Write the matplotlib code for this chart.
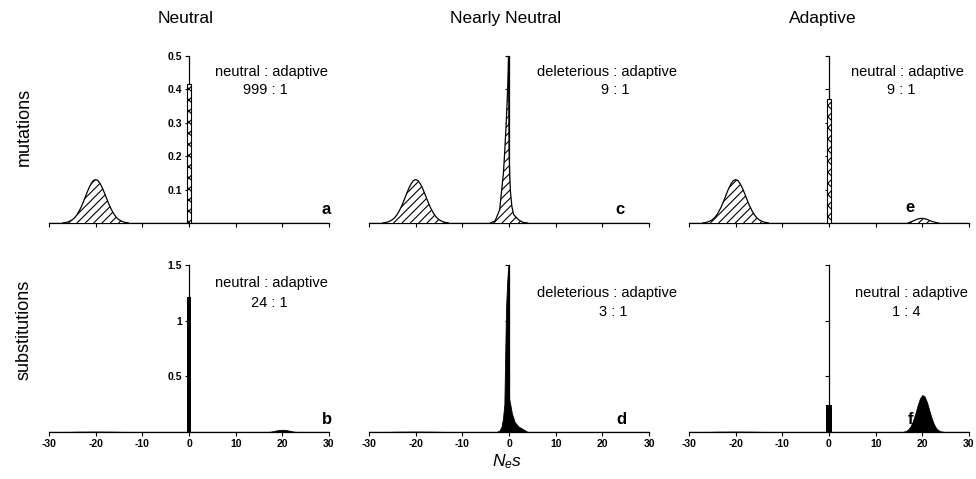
import matplotlib
matplotlib.use("Agg")
import matplotlib.pyplot as plt

plt.rcParams['font.family'] = ['Liberation Sans', 'DejaVu Sans']
plt.rcParams['hatch.linewidth'] = 0.8
plt.rcParams['mathtext.fontset'] = 'custom'
plt.rcParams['mathtext.it'] = 'Liberation Sans:italic'
plt.rcParams['mathtext.rm'] = 'Liberation Sans'

# ---------------- data ----------------
ns_ticks = [-30, -20, -10, 0, 10, 20, 30]
column_titles = ["Neutral", "Nearly Neutral", "Adaptive"]
row_titles = ["mutations", "substitutions"]
ratio_names = ["neutral : adaptive", "deleterious : adaptive", "neutral : adaptive",
               "neutral : adaptive", "deleterious : adaptive", "neutral : adaptive"]
ratio_values = ["999 : 1", "9 : 1", "9 : 1", "24 : 1", "3 : 1", "1 : 4"]
panel_letters = ["a", "c", "e", "b", "d", "f"]
mut_yticks = [0.1, 0.2, 0.3, 0.4, 0.5]
mut_ytick_labels = ["0.1", "0.2", "0.3", "0.4", "0.5"]
sub_yticks = [0.5, 1.0, 1.5]
sub_ytick_labels = ["0.5", "1", "1.5"]

# deleterious mutations centred near Ns = -20 (panels a, c, e)
del_mut_ns = [-27, -26.5, -26, -25.5, -25, -24.5, -24, -23.5, -23, -22.5, -22, -21.5,
              -21, -20.5, -20, -19.5, -19, -18.5, -18, -17.5, -17, -16.5, -16, -15.5,
              -15, -14.5, -14, -13.5, -13]
del_mut_freq = [0.0005, 0.0013, 0.003, 0.006, 0.010, 0.016, 0.025, 0.037, 0.051, 0.068,
                0.086, 0.103, 0.117, 0.127, 0.130, 0.127, 0.117, 0.103, 0.086, 0.068,
                0.051, 0.037, 0.025, 0.016, 0.010, 0.006, 0.003, 0.0013, 0.0005]

# neutral mutation / substitution bars at Ns = 0
neutral_mut_a = 0.415
neutral_mut_e = 0.37
neutral_sub_b = 1.21
neutral_sub_f = 0.243

# nearly-neutral mutations near 0 (panel c)
nn_mut_ns = [-4.0, -3.0, -2.7, -2.0, -1.6, -1.2, -0.9, -0.6, -0.3, -0.1, 0.0, 0.15,
             0.3, 0.6, 1.0, 1.6, 2.2, 3.0, 4.0]
nn_mut_freq = [0.0, 0.006, 0.016, 0.04, 0.095, 0.15, 0.22, 0.30, 0.40, 0.50, 0.22, 0.14,
               0.095, 0.05, 0.025, 0.016, 0.008, 0.002, 0.0]

# nearly-neutral substitutions near 0 (panel d)
nn_sub_ns = [-2.6, -2.0, -1.6, -1.3, -1.0, -0.9, -0.65, -0.4, -0.15, 0.0, 0.02, 0.3,
             0.6, 1.2, 2.0, 3.0, 4.0]
nn_sub_freq = [0.0, 0.015, 0.05, 0.12, 0.25, 0.50, 1.10, 1.35, 1.50, 1.35, 0.30, 0.24,
               0.17, 0.09, 0.05, 0.025, 0.0]

# adaptive mutations near Ns = 20 (panel e)
adapt_mut_ns = [17, 17.5, 18, 18.5, 19, 19.5, 20, 20.5, 21, 21.5, 22, 22.5, 23, 23.5]
adapt_mut_freq = [0.001, 0.003, 0.006, 0.009, 0.012, 0.0135, 0.014, 0.013, 0.011,
                  0.008, 0.005, 0.003, 0.001, 0.0]

# adaptive substitutions near Ns = 20 (panel b)
adapt_sub_b_ns = [17, 17.5, 18, 18.5, 19, 19.5, 20, 20.5, 21, 21.5, 22, 22.5, 23]
adapt_sub_b_freq = [0.001, 0.003, 0.007, 0.012, 0.016, 0.019, 0.02, 0.019, 0.016,
                    0.012, 0.007, 0.003, 0.001]

# adaptive substitutions near Ns = 20 (panel f)
adapt_sub_f_ns = [16, 16.5, 17, 17.5, 18, 18.5, 19, 19.5, 20, 20.5, 21, 21.5, 22,
                  22.5, 23, 23.5, 24, 24.5]
adapt_sub_f_freq = [0.0033, 0.0095, 0.024, 0.052, 0.099, 0.165, 0.239, 0.302, 0.332,
                    0.319, 0.267, 0.194, 0.124, 0.069, 0.033, 0.014, 0.005, 0.0016]

# very small deleterious substitutions (bottom row)
del_sub_ns = [-26, -25, -23, -20, -17, -15, -14]
del_sub_freq = [0.0, 0.002, 0.003, 0.004, 0.003, 0.002, 0.0]

# ---------------- layout ----------------
fig = plt.figure(figsize=(9.76, 4.79), dpi=100)
col_left = [0.0502, 0.3781, 0.7059]
ax_w = 0.2869
row_bottom = [0.5344, 0.0981]
ax_h = 0.3486

name_pos = [(0.793, 0.904), (0.85, 0.906), (0.78, 0.906),
            (0.793, 0.89), (0.85, 0.83), (0.795, 0.83)]
value_pos = [(0.771, 0.796), (0.879, 0.796), (0.757, 0.796),
             (0.786, 0.77), (0.871, 0.72), (0.775, 0.72)]
letter_pos = [(0.99, 0.078), (0.896, 0.078), (0.789, 0.09),
              (0.993, 0.072), (0.902, 0.072), (0.79, 0.072)]

hatch_curve = '////'
hatch_bar = 'xxx'


def hatched_curve(ax, x, y):
    ax.fill_between(x, 0, y, facecolor='white', edgecolor='black', hatch=hatch_curve,
                    linewidth=0, zorder=3)
    ax.plot(x, y, color='black', lw=0.9, zorder=4)


def solid_curve(ax, x, y):
    ax.fill_between(x, 0, y, facecolor='black', edgecolor='black', linewidth=0.6, zorder=3)


axes = []
for r in range(2):
    for c in range(3):
        ax = fig.add_axes([col_left[c], row_bottom[r], ax_w, ax_h])
        axes.append(ax)
        ax.set_xlim(-30, 30)
        for s in ['top', 'right']:
            ax.spines[s].set_visible(False)
        ax.spines['left'].set_position(('data', 0))
        ax.spines['left'].set_linewidth(0.9)
        ax.spines['bottom'].set_linewidth(0.9)
        ax.set_xticks(ns_ticks)
        ax.tick_params(direction='out', length=3, width=0.8, labelsize=7.5, pad=2)
        if r == 0:
            ax.set_ylim(0, 0.5)
            ax.set_yticks(mut_yticks)
            ax.set_xticklabels([])
            if c == 0:
                ax.set_yticklabels(mut_ytick_labels, fontweight='bold')
            else:
                ax.set_yticklabels([])
        else:
            ax.set_ylim(0, 1.5)
            ax.set_yticks(sub_yticks)
            ax.set_xticklabels([str(t) for t in ns_ticks], fontweight='bold')
            if c == 0:
                ax.set_yticklabels(sub_ytick_labels, fontweight='bold')
            else:
                ax.set_yticklabels([])
        ax.plot([-30, 30], [0, 0], color='black', lw=0.9, zorder=2)

ax_a, ax_c, ax_e, ax_b, ax_d, ax_f = axes

# top row: mutations
for ax in (ax_a, ax_c, ax_e):
    hatched_curve(ax, del_mut_ns, del_mut_freq)
ax_a.bar([0], [neutral_mut_a], width=1.0, facecolor='white', edgecolor='black',
         hatch=hatch_bar, linewidth=0.8, zorder=5)
hatched_curve(ax_c, nn_mut_ns, nn_mut_freq)
ax_e.bar([0], [neutral_mut_e], width=1.0, facecolor='white', edgecolor='black',
         hatch=hatch_bar, linewidth=0.8, zorder=5)
hatched_curve(ax_e, adapt_mut_ns, adapt_mut_freq)

# bottom row: substitutions
for ax in (ax_b, ax_d, ax_f):
    solid_curve(ax, del_sub_ns, del_sub_freq)
ax_b.bar([0], [neutral_sub_b], width=1.0, color='black', zorder=5)
solid_curve(ax_b, adapt_sub_b_ns, adapt_sub_b_freq)
solid_curve(ax_d, nn_sub_ns, nn_sub_freq)
ax_f.bar([0], [neutral_sub_f], width=1.1, color='black', zorder=5)
solid_curve(ax_f, adapt_sub_f_ns, adapt_sub_f_freq)

# annotations
for i, ax in enumerate(axes):
    ax.text(*name_pos[i], ratio_names[i], transform=ax.transAxes, ha='center',
            va='center', fontsize=10.5, clip_on=False)
    ax.text(*value_pos[i], ratio_values[i], transform=ax.transAxes, ha='center',
            va='center', fontsize=10.5, clip_on=False)
    ax.text(*letter_pos[i], panel_letters[i], transform=ax.transAxes, ha='center',
            va='center', fontsize=12, fontweight='bold', clip_on=False)

# titles and labels
title_x = [0.19, 0.518, 0.843]
for c in range(3):
    fig.text(title_x[c], 0.962, column_titles[c], ha='center', va='center', fontsize=12.5)
fig.text(0.0246, 0.734, row_titles[0], rotation=90, ha='center', va='center', fontsize=13)
fig.text(0.0246, 0.311, row_titles[1], rotation=90, ha='center', va='center', fontsize=13)
fig.text(0.52, 0.0355, r'$N_e s$', ha='center', va='center', fontsize=12.5)

fig.savefig("out.png", dpi=100)
